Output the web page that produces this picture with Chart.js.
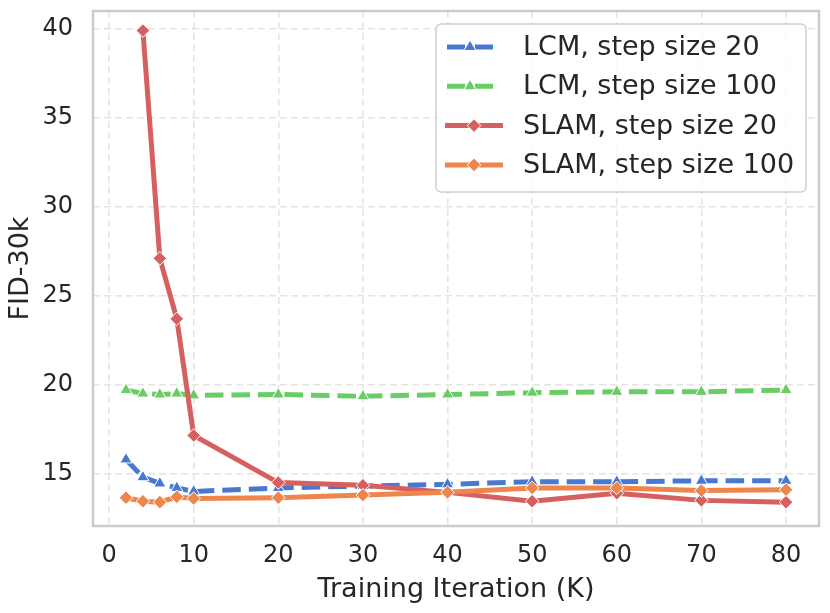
<!DOCTYPE html>
<html>
<head>
<meta charset="utf-8">
<script src="https://cdn.jsdelivr.net/npm/chart.js@4.4.1/dist/chart.umd.min.js"></script>
<style>
  html, body { margin: 0; padding: 0; background: #fff; }
  #wrap { width: 830px; height: 613px; position: relative; }
</style>
</head>
<body>
<div id="wrap"><canvas id="myChart"></canvas></div>
<script>
/* ---------------- data ---------------- */
const iterations = [2, 4, 6, 8, 10, 20, 30, 40, 50, 60, 70, 80];
const lcm20   = [15.8, 14.8, 14.45, 14.2, 14.0, 14.2, 14.3, 14.4, 14.55, 14.55, 14.6, 14.6];
const lcm100  = [19.7, 19.5, 19.45, 19.5, 19.4, 19.45, 19.35, 19.45, 19.55, 19.6, 19.6, 19.7];
const slam20  = [null, 39.9, 27.1, 23.7, 17.15, 14.5, 14.35, 13.95, 13.45, 13.9, 13.5, 13.4];
const slam100 = [13.65, 13.45, 13.4, 13.7, 13.6, 13.65, 13.8, 13.95, 14.2, 14.2, 14.05, 14.1];

const seriesLabels = ['LCM, step size 20', 'LCM, step size 100', 'SLAM, step size 20', 'SLAM, step size 100'];
const xTickValues = [0, 10, 20, 30, 40, 50, 60, 70, 80];
const yTickValues = [15, 20, 25, 30, 35, 40];

const FONT = 'DejaVu Sans';
const TEXT = '#262626';

function toPoints(values) {
    return iterations.map((x, i) => ({ x: x, y: values[i] })).filter(p => p.y !== null);
}

function makeSet(label, values, color, style, dashed, order) {
    return {
        label: label,
        data: toPoints(values),
        borderColor: color,
        backgroundColor: color,
        borderWidth: 5,
        borderDash: dashed ? [18.5, 8] : [],
        pointStyle: style,
        pointRadius: style === 'triangle' ? 7 : 6.8,
        pointBorderColor: '#ffffff',
        pointBorderWidth: 1,
        pointBackgroundColor: color,
        tension: 0,
        fill: false,
        order: order
    };
}

const datasets = [
    makeSet(seriesLabels[0], lcm20, '#4878d0', 'triangle', true, 4),
    makeSet(seriesLabels[1], lcm100, '#6acc64', 'triangle', true, 3),
    makeSet(seriesLabels[2], slam20, '#d65f5f', 'rectRot', false, 2),
    makeSet(seriesLabels[3], slam100, '#ee854a', 'rectRot', false, 1)
];

/* frame around the plot area */
const framePlugin = {
    id: 'frame',
    afterDatasetsDraw(chart) {
        const a = chart.chartArea, ctx = chart.ctx;
        ctx.save();
        ctx.strokeStyle = '#cccccc';
        ctx.lineWidth = 2.5;
        ctx.strokeRect(a.left, a.top, a.right - a.left, a.bottom - a.top);
        ctx.restore();
    }
};

/* matplotlib-like legend box */
const legendPlugin = {
    id: 'boxLegend',
    afterDraw(chart) {
        const ctx = chart.ctx;
        const box = { x: 436, y: 24, w: 370, h: 168 };
        ctx.save();
        ctx.beginPath();
        ctx.roundRect(box.x, box.y, box.w, box.h, 5);
        ctx.fillStyle = 'rgba(255,255,255,0.85)';
        ctx.fill();
        ctx.strokeStyle = '#d0d0d0';
        ctx.lineWidth = 1.5;
        ctx.stroke();

        chart.data.datasets.forEach((ds, i) => {
            const y = 47 + i * 39.3;
            const dashed = ds.borderDash.length > 0;
            ctx.strokeStyle = ds.borderColor;
            ctx.lineWidth = 5;
            ctx.lineCap = 'butt';
            ctx.setLineDash(dashed ? [18, 10] : []);
            ctx.beginPath();
            ctx.moveTo(dashed ? 447 : 445, y);
            ctx.lineTo(dashed ? 493 : 503, y);
            ctx.stroke();
            ctx.setLineDash([]);

            const mx = dashed ? 470 : 474;
            const r = ds.pointRadius;
            ctx.beginPath();
            if (ds.pointStyle === 'triangle') {
                ctx.moveTo(mx, y - r);
                ctx.lineTo(mx + r * 0.866, y + r / 2);
                ctx.lineTo(mx - r * 0.866, y + r / 2);
            } else {
                ctx.moveTo(mx, y - r);
                ctx.lineTo(mx + r, y);
                ctx.lineTo(mx, y + r);
                ctx.lineTo(mx - r, y);
            }
            ctx.closePath();
            ctx.fillStyle = ds.borderColor;
            ctx.fill();
            ctx.strokeStyle = '#ffffff';
            ctx.lineWidth = 1;
            ctx.stroke();

            ctx.fillStyle = TEXT;
            ctx.font = '27px "' + FONT + '"';
            ctx.textBaseline = 'middle';
            ctx.textAlign = 'left';
            ctx.fillText(ds.label, 523, y + 1);
        });
        ctx.restore();
    }
};

const gridStyle = { color: '#e4e4e4', lineWidth: 1.6, drawTicks: false };

const config = {
    type: 'line',
    data: { datasets: datasets },
    options: {
        responsive: true,
        maintainAspectRatio: false,
        animation: false,
        layout: { padding: { left: 0, top: 11, right: 11, bottom: 0 } },
        plugins: { legend: { display: false }, tooltip: { enabled: false } },
        scales: {
            x: {
                type: 'linear',
                min: -1.9,
                max: 83.9,
                grid: gridStyle,
                border: { display: false, dash: [7, 4] },
                afterBuildTicks: s => { s.ticks = xTickValues.map(v => ({ value: v })); },
                afterFit: s => { s.height = 87; s.paddingLeft = 0; s.paddingRight = 0; },
                ticks: { color: TEXT, font: { family: FONT, size: 24 }, padding: 15, maxRotation: 0 },
                title: { display: true, text: 'Training Iteration (K)', color: TEXT,
                         font: { family: FONT, size: 27 }, padding: { top: 0, bottom: 7 } }
            },
            y: {
                type: 'linear',
                min: 12.06,
                max: 41.0,
                grid: gridStyle,
                border: { display: false, dash: [7, 4] },
                afterBuildTicks: s => { s.ticks = yTickValues.map(v => ({ value: v })); },
                afterFit: s => { s.width = 93; s.paddingTop = 0; s.paddingBottom = 0; },
                ticks: { color: TEXT, font: { family: FONT, size: 24 }, padding: 20 },
                title: { display: true, text: 'FID-30k', color: TEXT,
                         font: { family: FONT, size: 27 }, padding: { top: 5, bottom: 0 } }
            }
        }
    },
    plugins: [framePlugin, legendPlugin]
};

const myChart = new Chart(document.getElementById('myChart'), config);
</script>
</body>
</html>
